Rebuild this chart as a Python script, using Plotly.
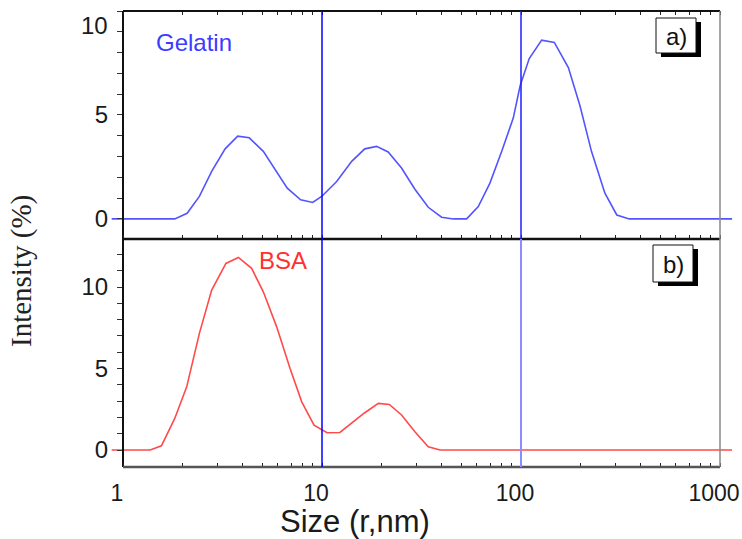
import plotly.graph_objects as go

# ---- data ----
size_gelatin = [0.877, 1.82, 2.10, 2.42, 2.79, 3.26, 3.77, 4.31, 5.07, 5.81, 6.69, 7.81, 8.98,
                9.96, 11.85, 14.1, 16.4, 18.8, 21.5, 25.1, 29.3, 34.2, 39.9, 45.7, 53.3, 61.0,
                69.8, 80.0, 91.5, 98.9, 110, 127, 147, 173, 198, 226, 264, 303, 350, 1150]
int_gelatin = [0, 0, 0.27, 1.08, 2.29, 3.37, 3.98, 3.90, 3.25, 2.37, 1.48, 0.92, 0.79,
               1.08, 1.80, 2.77, 3.37, 3.49, 3.22, 2.45, 1.43, 0.56, 0.08, 0.0, 0.0, 0.59,
               1.72, 3.25, 4.86, 6.39, 7.71, 8.60, 8.49, 7.28, 5.43, 3.25, 1.24, 0.19, 0, 0]

size_bsa = [0.877, 1.37, 1.56, 1.82, 2.09, 2.42, 2.79, 3.29, 3.80, 4.43, 5.07, 5.92, 6.91,
            7.91, 9.12, 10.6, 12.3, 14.1, 16.4, 19.2, 21.8, 25.1, 29.3, 34.2, 39.2, 1150]
int_bsa = [0, 0, 0.26, 1.94, 3.88, 7.16, 9.82, 11.45, 11.82, 11.15, 9.71, 7.56, 5.01,
           2.96, 1.53, 1.06, 1.08, 1.64, 2.29, 2.86, 2.80, 2.15, 1.12, 0.20, 0, 0]

x_ticks = [m * 10 ** e for e in range(0, 3) for m in range(1, 10)] + [1000]
x_ticktext = [str(v) if v in (1, 10, 100, 1000) else "" for v in x_ticks]
y_top_ticks = list(range(0, 11))
y_top_text = ["0", "", "", "", "", "5", "", "", "", "", ""]
y_bot_ticks = list(range(0, 14))
y_bot_text = [str(v) if v in (0, 5, 10) else "" for v in y_bot_ticks]
ref_lines = [10, 100]

W, H = 742, 539
def px(x):
    return x / W
def py(y):
    return 1 - y / H

FONT = "Liberation Sans, Arial, sans-serif"
TICKC = "#1a1a1a"

fig = go.Figure()
fig.add_trace(go.Scatter(x=size_gelatin, y=int_gelatin, mode="lines",
                         line=dict(color="#5454ff", width=1.6), xaxis="x", yaxis="y",
                         showlegend=False))
fig.add_trace(go.Scatter(x=size_bsa, y=int_bsa, mode="lines",
                         line=dict(color="#ff4a4a", width=1.6), xaxis="x2", yaxis="y2",
                         showlegend=False))

xcommon = dict(type="log", range=[-0.0603, 3.0653], domain=[px(111), px(733)],
               tickmode="array", tickvals=x_ticks, ticks="inside", ticklen=4,
               tickwidth=1.2, tickcolor="#222", showgrid=False, zeroline=False,
               showline=True, linecolor="rgba(0,0,0,0)", automargin=False)
ycommon = dict(anchor="free", position=px(123), showline=True, linecolor="#111",
               linewidth=2, ticks="outside", ticklen=5, tickwidth=1.3, tickcolor="#333",
               showgrid=False, zeroline=False, tickmode="array", automargin=False,
               tickfont=dict(family=FONT, size=24, color=TICKC), ticklabelstandoff=4)

fig.update_layout(
    width=W, height=H, autosize=False, margin=dict(l=0, r=0, t=0, b=0),
    paper_bgcolor="white", plot_bgcolor="rgba(0,0,0,0)",
    xaxis=dict(**xcommon, anchor="y", mirror="ticks", showticklabels=False),
    xaxis2=dict(**xcommon, anchor="y2", ticktext=x_ticktext, showticklabels=True,
                tickfont=dict(family=FONT, size=23, color=TICKC),
                ticklabelshift=-6, ticklabelstandoff=5, ticklabeloverflow="hide past div"),
    yaxis=dict(**ycommon, domain=[py(239), py(11)], range=[-0.966, 10.0],
               tickvals=y_top_ticks, ticktext=y_top_text),
    yaxis2=dict(**ycommon, domain=[py(467), py(239)], range=[-1.04, 12.95],
                tickvals=y_bot_ticks, ticktext=y_bot_text),
)

shapes = []
# frame lines
shapes.append(dict(type="line", xref="paper", yref="paper", x0=px(123), x1=px(720),
                   y0=py(11), y1=py(11), line=dict(color="#111", width=2)))
shapes.append(dict(type="line", xref="paper", yref="paper", x0=px(123), x1=px(720),
                   y0=py(239), y1=py(239), line=dict(color="#111", width=2.5)))
shapes.append(dict(type="line", xref="paper", yref="paper", x0=px(123), x1=px(720),
                   y0=py(467), y1=py(467), line=dict(color="#555", width=2.5)))
shapes.append(dict(type="line", xref="paper", yref="paper", x0=px(720), x1=px(720),
                   y0=py(467), y1=py(11), line=dict(color="#888", width=1.5)))
# vertical reference lines
shapes.append(dict(type="line", xref="x", yref="paper", x0=ref_lines[0], x1=ref_lines[0],
                   y0=py(467), y1=py(11), line=dict(color="#0000ff", width=1.5)))
shapes.append(dict(type="line", xref="x", yref="paper", x0=ref_lines[1], x1=ref_lines[1],
                   y0=py(239), y1=py(11), line=dict(color="#1e1eff", width=1.5)))
shapes.append(dict(type="line", xref="x", yref="paper", x0=ref_lines[1], x1=ref_lines[1],
                   y0=py(467), y1=py(239), line=dict(color="#8c8cff", width=2)))
# panel label boxes with shadow
for (bx0, by0, bx1, by1) in [(656, 18, 696, 53), (653, 245, 693, 282)]:
    shapes.append(dict(type="rect", xref="paper", yref="paper",
                       x0=px(bx0 + 5), x1=px(bx1 + 5), y0=py(by1 + 4), y1=py(by0 + 4),
                       fillcolor="black", line=dict(width=0)))
    shapes.append(dict(type="rect", xref="paper", yref="paper",
                       x0=px(bx0), x1=px(bx1), y0=py(by1), y1=py(by0),
                       fillcolor="white", line=dict(color="#111", width=1)))
fig.update_layout(shapes=shapes)

def label(text, x, y, size, color, family=FONT, **kw):
    d = dict(text=text, x=x, y=y, xref="paper", yref="paper", showarrow=False,
             xanchor="center", yanchor="middle",
             font=dict(family=family, size=size, color=color))
    d.update(kw)
    return d

ann = [
    label("Gelatin", px(194), py(43), 24, "#3c3cff"),
    label("BSA", px(283), py(260), 24, "#ff3030"),
    label("a)", px(676), py(36), 24, "#111"),
    label("b)", px(673), py(264), 24, "#111"),
    # top panel "10" label (drawn slightly below the top tick as in the original)
    dict(text="10", x=px(110), y=10, xref="paper", yref="y", yshift=-14,
         xanchor="right", yanchor="middle", showarrow=False,
         font=dict(family=FONT, size=24, color=TICKC)),
    label("Size (r,nm)", px(355), py(521), 31, TICKC),
    label("Intensity (%)", px(21), py(271), 29, "#222",
          family="Liberation Serif, Times New Roman, serif", textangle=-90),
]
fig.update_layout(annotations=ann)

fig.write_html(
    "out.html",
    config={"responsive": False, "displayModeBar": False},
    post_script=("document.documentElement.style.margin='0px';"
                 "document.body.style.margin='0px';"
                 "document.body.style.overflow='hidden';"),
)
